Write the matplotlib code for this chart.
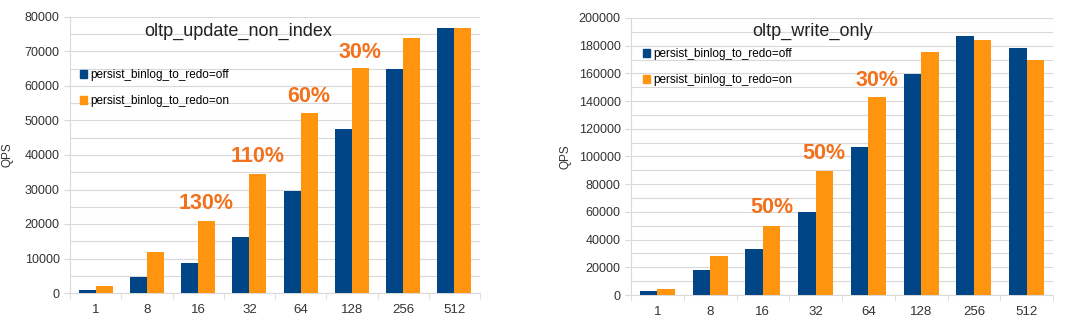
import matplotlib
matplotlib.use("Agg")
import matplotlib.pyplot as plt
import numpy as np
from matplotlib.patches import Patch
from matplotlib.ticker import MultipleLocator

plt.rcParams['font.family'] = ['Liberation Sans', 'DejaVu Sans']

categories = ["1", "8", "16", "32", "64", "128", "256", "512"]
series_labels = ["persist_binlog_to_redo=off", "persist_binlog_to_redo=on"]

upd_title = "oltp_update_non_index"
upd_off = [1000, 4600, 8700, 16100, 29500, 47500, 65000, 76900]
upd_on = [1900, 11800, 20900, 34600, 52100, 65200, 74000, 76900]
upd_notes = ["130%", "110%", "60%", "30%"]
upd_note_cats = [2, 3, 4, 5]
upd_note_y = [26000, 39700, 57000, 69600]

wo_title = "oltp_write_only"
wo_off = [3100, 18000, 33000, 59800, 106500, 159800, 186700, 178000]
wo_on = [4300, 27900, 50100, 89200, 142700, 175400, 184100, 169900]
wo_notes = ["50%", "50%", "30%"]
wo_note_cats = [2, 3, 4]
wo_note_y = [63500, 102000, 155000]

C_OFF = "#004586"
C_ON = "#ff950e"
C_NOTE = "#f2711c"
GRID = "#d9d9d9"

fig = plt.figure(figsize=(10.8, 3.27), dpi=100)

def draw(rect, off, on, title, notes, note_cats, note_y, ymax, ystep, title_x, leg_pos, ylab_x):
    ax = fig.add_axes(rect)
    x = np.arange(len(categories))
    w = 0.33
    ax.bar(x - w / 2, off, w, color=C_OFF, zorder=3)
    ax.bar(x + w / 2, on, w, color=C_ON, zorder=3)
    ax.set_xlim(-0.5, len(categories) - 0.5)
    ax.set_ylim(0, ymax)
    ax.yaxis.set_major_locator(MultipleLocator(ystep))
    ax.yaxis.set_minor_locator(MultipleLocator(ystep / 2))
    ax.grid(axis='y', which='both', color=GRID, linewidth=0.8, zorder=0)
    ax.set_xticks(x)
    ax.set_xticklabels(categories, fontsize=9.5, color="#333333")
    ax.set_xticks(np.arange(len(categories) + 1) - 0.5, minor=True)
    ax.tick_params(axis='x', which='major', length=0, pad=8)
    ax.tick_params(axis='x', which='minor', length=4, color=GRID)
    ax.tick_params(axis='y', which='major', length=4, color=GRID, labelsize=9, labelcolor="#333333")
    ax.tick_params(axis='y', which='minor', length=0)
    for s in ['top', 'right']:
        ax.spines[s].set_visible(False)
    for s in ['left', 'bottom']:
        ax.spines[s].set_color(GRID)
    ax.set_ylabel("QPS", fontsize=8.5, color="#333333")
    ax.yaxis.set_label_coords(ylab_x, 0.5)
    fig.text(title_x, 1 - 31 / 327, title, ha='center', va='center', fontsize=13, color="#222222")
    for t, c, y in zip(notes, note_cats, note_y):
        ax.text(c + w / 2, y, t, ha='center', va='center', fontsize=15.5, fontweight='bold', color=C_NOTE, zorder=4)
    handles = [Patch(color=C_OFF), Patch(color=C_ON)]
    ax.legend(handles, series_labels, loc='upper left', bbox_to_anchor=leg_pos, bbox_transform=fig.transFigure,
              frameon=False, fontsize=8.5, handlelength=0.6, handleheight=0.6, handletextpad=0.3,
              labelspacing=1.2, borderpad=0, borderaxespad=0)
    return ax

draw([70 / 1080, 1 - 293 / 327, 410 / 1080, 276 / 327], upd_off, upd_on, upd_title,
     upd_notes, upd_note_cats, upd_note_y, 80000, 10000, 238 / 1080, (80 / 1080, 1 - 69 / 327), -0.139)
draw([631 / 1080, 1 - 295 / 327, 422 / 1080, 277 / 327], wo_off, wo_on, wo_title,
     wo_notes, wo_note_cats, wo_note_y, 200000, 20000, 813 / 1080, (643 / 1080, 1 - 48 / 327), -0.14)

fig.savefig("out.png", dpi=100, facecolor="white")
